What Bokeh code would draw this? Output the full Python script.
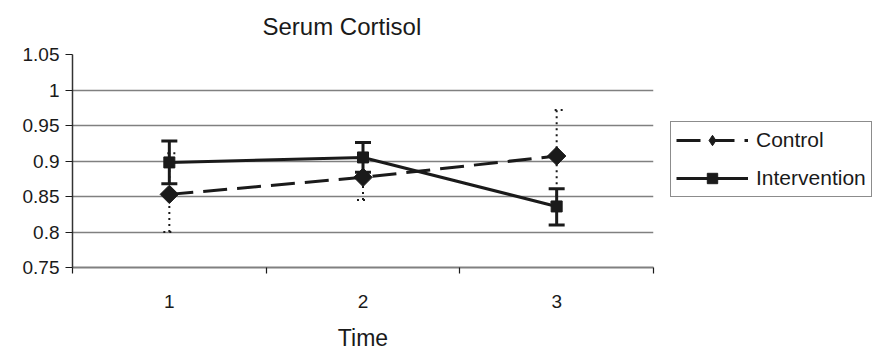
import math
from bokeh.plotting import figure
from bokeh.models import (Range1d, FixedTicker, NumeralTickFormatter, Whisker, TeeHead,
                          ColumnDataSource, Legend, LegendItem)
from bokeh.embed import file_html
from bokeh.resources import INLINE

# ---- data ----
time_points = [1, 2, 3]
time_labels = ["1", "2", "3"]
control = [0.853, 0.877, 0.907]
control_lower = [0.800, 0.845, 0.842]
control_upper = [0.911, 0.909, 0.972]
intervention = [0.898, 0.905, 0.836]
intervention_lower = [0.868, 0.884, 0.810]
intervention_upper = [0.928, 0.926, 0.861]
y_ticks = [0.75, 0.8, 0.85, 0.9, 0.95, 1.0, 1.05]
grid_ticks = [0.8, 0.85, 0.9, 0.95, 1.0]
x_boundaries = [0.5, 1.5, 2.5, 3.5]

FONT = "Liberation Sans"
INK = "#1a1a1a"
GRID = "#808080"

p = figure(width=870, height=346, output_backend="svg", toolbar_location=None,
           x_range=Range1d(0.5, 3.5), y_range=Range1d(0.75, 1.05),
           frame_width=581, frame_height=213,
           min_border_left=72, min_border_right=217, min_border_top=54, min_border_bottom=79,
           title="Serum Cortisol")
p.outline_line_color = None
p.background_fill_color = "white"
p.border_fill_color = "white"

p.title.text_font = FONT
p.title.text_font_size = "24px"
p.title.text_font_style = "normal"
p.title.text_color = INK
p.title.align = "left"
p.title.offset = 190
p.title.standoff = 25
p.title.vertical_align = "top"

# x axis
xa = p.xaxis[0]
xa.ticker = FixedTicker(ticks=time_points, minor_ticks=x_boundaries)
xa.major_label_overrides = {t: l for t, l in zip(time_points, time_labels)}
xa.major_tick_out = 0
xa.major_tick_in = 0
xa.minor_tick_out = 6
xa.minor_tick_in = 0
xa.minor_tick_line_color = INK
xa.minor_tick_line_width = 1.2
xa.axis_line_color = GRID
xa.axis_line_width = 1.8
xa.major_label_text_font = FONT
xa.major_label_text_font_size = "19px"
xa.major_label_text_color = INK
xa.major_label_standoff = 21
xa.axis_label = "Time"
xa.axis_label_text_font = FONT
xa.axis_label_text_font_size = "23px"
xa.axis_label_text_font_style = "normal"
xa.axis_label_text_color = INK
xa.axis_label_standoff = 14

# y axis
ya = p.yaxis[0]
ya.ticker = FixedTicker(ticks=y_ticks)
ya.formatter = NumeralTickFormatter(format="0.[00]")
ya.major_tick_out = 7
ya.major_tick_in = 0
ya.minor_tick_out = 0
ya.minor_tick_in = 0
ya.major_tick_line_color = INK
ya.major_tick_line_width = 1.2
ya.axis_line_color = "#333333"
ya.axis_line_width = 1.5
ya.major_label_text_font = FONT
ya.major_label_text_font_size = "19px"
ya.major_label_text_color = INK
ya.major_label_standoff = 6

p.xgrid.visible = False
p.ygrid.ticker = FixedTicker(ticks=grid_ticks)
p.ygrid.grid_line_color = GRID
p.ygrid.grid_line_width = 1.6

src = ColumnDataSource(dict(x=time_points, c=control, cl=control_lower, cu=control_upper,
                            i=intervention, il=intervention_lower, iu=intervention_upper))

# control
c_err = Whisker(source=src, base="x", lower="cl", upper="cu", line_color=INK,
                line_width=2, line_dash="2 4",
                upper_head=TeeHead(size=12, line_width=2, line_color=INK, line_dash="2 4"),
                lower_head=TeeHead(size=12, line_width=2, line_color=INK, line_dash="2 4"))
p.add_layout(c_err)
c_line = p.line("x", "c", source=src, line_color=INK, line_width=3, line_dash="24 10")
# diamond used for the legend swatch (fully covered by the wider rotated square below)
c_legend_mark = p.scatter("x", "c", source=src, marker="diamond", size=14,
                          fill_color=INK, line_color=INK)
c_mark = p.scatter("x", "c", source=src, marker="square", size=13, angle=math.pi / 4,
                   fill_color=INK, line_color=INK)

# intervention
i_err = Whisker(source=src, base="x", lower="il", upper="iu", line_color=INK, line_width=3,
                upper_head=TeeHead(size=16, line_width=3, line_color=INK),
                lower_head=TeeHead(size=16, line_width=3, line_color=INK))
p.add_layout(i_err)
i_line = p.line("x", "i", source=src, line_color=INK, line_width=3)
i_mark = p.scatter("x", "i", source=src, marker="square", size=11, fill_color=INK,
                   line_color=INK)

legend = Legend(items=[LegendItem(label="Control", renderers=[c_line, c_legend_mark]),
                       LegendItem(label="Intervention", renderers=[i_line, i_mark])],
                location=(17, 70), orientation="vertical")
legend.border_line_color = INK
legend.border_line_width = 1.2
legend.label_text_font = FONT
legend.label_text_font_size = "21px"
legend.label_text_color = INK
legend.glyph_width = 72
legend.glyph_height = 26
legend.label_height = 26
legend.spacing = 12
legend.padding = 5
legend.label_standoff = 8
legend.margin = 0
legend.background_fill_color = "white"
p.add_layout(legend, "right")

open("out.html", "w").write(file_html(p, INLINE))
